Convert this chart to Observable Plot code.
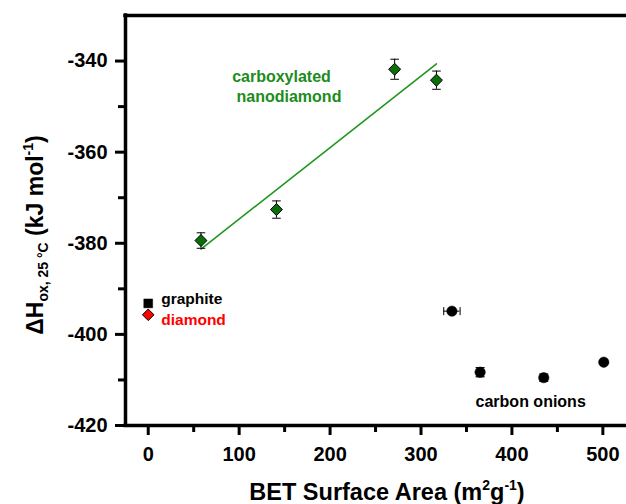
<!DOCTYPE html>
<html>
<head>
<meta charset="utf-8">
<script src="https://cdn.jsdelivr.net/npm/d3@7"></script>
<script src="https://cdn.jsdelivr.net/npm/@observablehq/plot@0.6"></script>
<style>
  html, body { margin: 0; padding: 0; background: #fff; }
  svg { display: block; }
</style>
</head>
<body>
<div id="chart"></div>
<script>
// Carboxylated nanodiamond (green diamonds, with vertical error bars)
const ndX = [58, 141, 271, 317];
const ndY = [-379.4, -372.6, -341.8, -344.2];
const ndErr = [1.7, 1.9, 2.2, 2.0];

// Carbon onions (black circles)
const onionX = [334, 365, 435, 501];
const onionY = [-394.9, -408.3, -409.5, -406.1];
const onionXErr = [9, 0, 0, 0];
const onionYErr = [0, 1.0, 0.8, 0];

// Reference materials at zero surface area
const graphiteX = [0];
const graphiteY = [-393.2];
const diamondX = [0];
const diamondY = [-395.7];

// Tick values
const xMajor = [0, 100, 200, 300, 400, 500];
const xMinor = [50, 150, 250, 350, 450];
const yMajor = [-420, -400, -380, -360, -340];
const yMinor = [-410, -390, -370, -350];

const nd = ndX.map((x, i) => ({x, y: ndY[i], e: ndErr[i]}));
const onions = onionX.map((x, i) => ({x, y: onionY[i], ex: onionXErr[i], ey: onionYErr[i]}));
const graphite = graphiteX.map((x, i) => ({x, y: graphiteY[i]}));
const diamond = diamondX.map((x, i) => ({x, y: diamondY[i]}));

const capH = {draw(ctx, size) { const w = Math.sqrt(size / Math.PI); ctx.moveTo(-w, 0); ctx.lineTo(w, 0); }};
const capV = {draw(ctx, size) { const w = Math.sqrt(size / Math.PI); ctx.moveTo(0, -w); ctx.lineTo(0, w); }};

const GREEN_TEXT = "#1b8c1b";
const GREEN_LINE = "#1f961f";
const GREEN_FILL = "#0a6e0a";
const FONT = "'Liberation Sans', Arial, Helvetica, sans-serif";

const onionsYE = onions.filter(d => d.ey > 0);
const onionsXE = onions.filter(d => d.ex > 0);

const plot = Plot.plot({
  width: 626,
  height: 504,
  marginLeft: 125,
  marginRight: 0,
  marginTop: 15,
  marginBottom: 79,
  style: {fontFamily: FONT, fontWeight: "bold", background: "#fff", overflow: "visible"},
  x: {domain: [-25, 526], label: null},
  y: {domain: [-420, -330], label: null},
  marks: [
    // frame lines
    Plot.ruleY([-330], {strokeWidth: 3.5, stroke: "#000", strokeLinecap: "square"}),
    Plot.ruleY([-420], {strokeWidth: 3.5, stroke: "#000", strokeLinecap: "square"}),
    Plot.ruleX([-25], {strokeWidth: 3.5, stroke: "#000", strokeLinecap: "square"}),
    // axes
    Plot.axisY({ticks: yMajor, tickSize: 10, tickPadding: 8, strokeWidth: 3, fontSize: 20, fontWeight: "bold", tickFormat: d => String(d), label: null}),
    Plot.axisY({ticks: yMinor, tickSize: 7, strokeWidth: 3, tickFormat: () => "", label: null}),
    Plot.axisX({ticks: xMajor, tickSize: 10, tickPadding: 11, strokeWidth: 3, fontSize: 20, fontWeight: "bold", tickFormat: d => String(d), label: null}),
    Plot.axisX({ticks: xMinor, tickSize: 7, strokeWidth: 3, tickFormat: () => "", label: null}),
    // regression line through nanodiamond points
    Plot.linearRegressionY(nd, {x: "x", y: "y", stroke: GREEN_LINE, strokeWidth: 1.6, ci: 0}),
    // nanodiamond error bars
    Plot.ruleX(nd, {x: "x", y1: d => d.y - d.e, y2: d => d.y + d.e, stroke: "#000", strokeWidth: 1}),
    Plot.dot(nd, {x: "x", y: d => d.y - d.e, symbol: capH, r: 4.3, stroke: "#000", strokeWidth: 1}),
    Plot.dot(nd, {x: "x", y: d => d.y + d.e, symbol: capH, r: 4.3, stroke: "#000", strokeWidth: 1}),
    Plot.dot(nd, {x: "x", y: "y", symbol: "diamond2", r: 5.4, fill: GREEN_FILL, stroke: "#000", strokeWidth: 1}),
    // onions error bars
    Plot.ruleY(onionsXE, {y: "y", x1: d => d.x - d.ex, x2: d => d.x + d.ex, stroke: "#000", strokeWidth: 1}),
    Plot.dot(onionsXE, {x: d => d.x - d.ex, y: "y", symbol: capV, r: 4, stroke: "#000", strokeWidth: 1}),
    Plot.dot(onionsXE, {x: d => d.x + d.ex, y: "y", symbol: capV, r: 4, stroke: "#000", strokeWidth: 1}),
    Plot.dot(onionsYE, {x: "x", y: d => d.y - d.ey, symbol: capH, r: 4.5, stroke: "#000", strokeWidth: 1.2}),
    Plot.dot(onionsYE, {x: "x", y: d => d.y + d.ey, symbol: capH, r: 4.5, stroke: "#000", strokeWidth: 1.2}),
    Plot.dot(onions, {x: "x", y: "y", r: 5.2, fill: "#000", stroke: "#000", strokeWidth: 0.5}),
    // graphite and diamond
    Plot.dot(graphite, {x: "x", y: "y", symbol: "square", r: 5, fill: "#000", stroke: "#000", strokeWidth: 0.5}),
    Plot.dot(diamond, {x: "x", y: "y", symbol: "diamond2", r: 5.2, fill: "#ff0000", stroke: "#000", strokeWidth: 1}),
    // annotations
    Plot.text(["carboxylated"], {x: 92.3, y: -343.5, text: d => d, textAnchor: "start", fill: GREEN_TEXT, fontSize: 16, fontWeight: "bold"}),
    Plot.text(["nanodiamond"], {x: 97.1, y: -347.9, text: d => d, textAnchor: "start", fill: GREEN_TEXT, fontSize: 16, fontWeight: "bold"}),
    Plot.text(["graphite"], {x: 14.3, y: -392.3, text: d => d, textAnchor: "start", fill: "#000", fontSize: 15.5, fontWeight: "bold"}),
    Plot.text(["diamond"], {x: 14.3, y: -396.9, text: d => d, textAnchor: "start", fill: "#ff0000", fontSize: 15.5, fontWeight: "bold"}),
    Plot.text(["carbon onions"], {x: 360, y: -414.9, text: d => d, textAnchor: "start", fill: "#000", fontSize: 16, fontWeight: "bold"})
  ]
});

const svg = d3.select(plot);
// X axis title
const xt = svg.append("text")
  .attr("x", 387).attr("y", 500)
  .attr("text-anchor", "middle")
  .attr("font-family", FONT).attr("font-weight", "bold").attr("font-size", 23.5)
  .attr("fill", "#000");
xt.append("tspan").text("BET Surface Area (m");
xt.append("tspan").attr("font-size", 14).attr("dy", -10).text("2");
xt.append("tspan").attr("dy", 10).text("g");
xt.append("tspan").attr("font-size", 14).attr("dy", -10).text("-1");
xt.append("tspan").attr("dy", 10).text(")");

// Y axis title
const yt = svg.append("text")
  .attr("transform", "translate(43,235) rotate(-90)")
  .attr("text-anchor", "middle")
  .attr("font-family", FONT).attr("font-weight", "bold").attr("font-size", 23)
  .attr("fill", "#000");
yt.append("tspan").text("ΔH");
yt.append("tspan").attr("font-size", 14).attr("dy", 5).text("ox, 25 °C");
yt.append("tspan").attr("dy", -5).text(" (kJ mol");
yt.append("tspan").attr("font-size", 14).attr("dy", -10).text("-1");
yt.append("tspan").attr("dy", 10).text(")");

document.getElementById("chart").appendChild(plot);
</script>
</body>
</html>
